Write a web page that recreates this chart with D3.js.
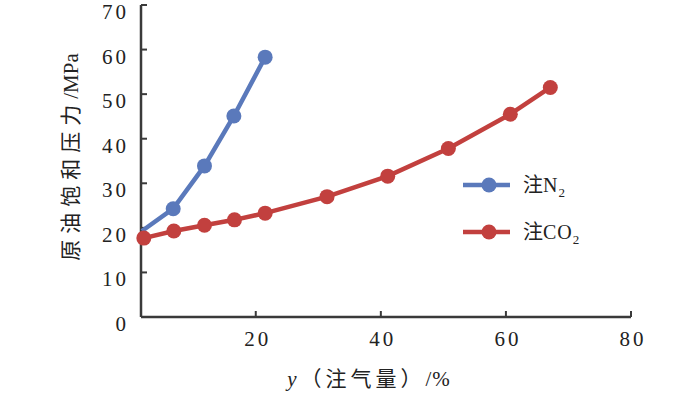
<!DOCTYPE html>
<html><head><meta charset="utf-8">
<script src="https://cdn.jsdelivr.net/npm/d3@7"></script>
<style>
html,body{margin:0;padding:0;background:#fff;}
text{fill:#222;}
</style></head>
<body><svg id="c" width="700" height="399"></svg>
<script>
// data
const seriesNames = ["注N", "注CO"];
const n2X = [1.8, 6.8, 11.8, 16.5, 21.5];
const n2Y = [19.3, 24.3, 33.9, 45.1, 58.3];
const co2X = [2.1, 6.9, 11.8, 16.6, 21.5, 31.4, 41.1, 50.8, 60.7, 67.1];
const co2Y = [17.7, 19.3, 20.6, 21.8, 23.3, 27.0, 31.6, 37.8, 45.5, 51.5];
const xTicks = [20, 40, 60, 80];
const yTicks = [0, 10, 20, 30, 40, 50, 60, 70];
const xTitle = "y（注气量）/%";
const yTitle = "原油饱和压力/MPa";

const SERIF = "'Liberation Serif', 'DejaVu Serif', serif";
const CJK = "'Noto Sans CJK SC', sans-serif";
const colors = ["#5a79bb", "#c2403e"];
const svg = d3.select("#c");
const x = d3.scaleLinear().domain([1.65, 80]).range([141, 631]);
const y = d3.scaleLinear().domain([0, 70]).range([317, 5]);
const axisColor = "#3a3a3a";

// axes
const g = svg.append("g");
g.append("line").attr("x1", x(1.65)).attr("x2", x(80)).attr("y1", y(0)).attr("y2", y(0))
  .attr("stroke", axisColor).attr("stroke-width", 2.5);
g.append("line").attr("x1", x(1.65)).attr("x2", x(1.65)).attr("y1", y(0)).attr("y2", y(70))
  .attr("stroke", axisColor).attr("stroke-width", 2.5);
yTicks.forEach(t => {
  if (t > 0) g.append("line").attr("x1", x(1.65)).attr("x2", x(1.65) + 6).attr("y1", y(t)).attr("y2", y(t))
    .attr("stroke", axisColor).attr("stroke-width", 2);
  g.append("text").attr("x", 129).attr("y", y(t) + 14).attr("text-anchor", "end")
    .attr("font-family", SERIF).attr("font-size", 21).attr("letter-spacing", 3).text(String(t));
});
xTicks.forEach(t => {
  g.append("line").attr("x1", x(t)).attr("x2", x(t)).attr("y1", y(0)).attr("y2", y(0) - 6)
    .attr("stroke", axisColor).attr("stroke-width", 2);
  g.append("text").attr("x", x(t) + 2).attr("y", 346).attr("text-anchor", "middle")
    .attr("font-family", SERIF).attr("font-size", 21).attr("letter-spacing", 3).text(String(t));
});

// titles
const xt = svg.append("text").attr("x", 369).attr("y", 386).attr("text-anchor", "middle")
  .attr("font-size", 21).attr("letter-spacing", 4);
xt.append("tspan").attr("font-family", SERIF).attr("font-style", "italic").text(xTitle[0]);
xt.append("tspan").attr("font-family", CJK).text(xTitle.slice(1, 6));
xt.append("tspan").attr("font-family", SERIF).attr("letter-spacing", 1).text(xTitle.slice(6));
const yt = svg.append("text").attr("transform", "translate(78,157) rotate(-90)").attr("text-anchor", "middle")
  .attr("font-size", 21);
yt.append("tspan").attr("font-family", CJK).attr("letter-spacing", 6).text(yTitle.slice(0, 6));
yt.append("tspan").attr("font-family", SERIF).text(yTitle.slice(6));

// series
const line = d3.line().x(d => x(d[0])).y(d => y(d[1]));
const series = [n2X.map((v, i) => [v, n2Y[i]]), co2X.map((v, i) => [v, co2Y[i]])];
series.forEach((s, k) => {
  svg.append("path").datum(s).attr("d", line).attr("fill", "none")
    .attr("stroke", colors[k]).attr("stroke-width", 4.5);
  svg.selectAll(null).data(s.slice(k === 0 ? 1 : 0)).enter().append("circle")
    .attr("cx", d => x(d[0])).attr("cy", d => y(d[1])).attr("r", 7.5).attr("fill", colors[k]);
});

// legend
const subs = ["2", "2"];
[185, 232].forEach((ly, k) => {
  svg.append("line").attr("x1", 463).attr("x2", 510).attr("y1", ly).attr("y2", ly)
    .attr("stroke", colors[k]).attr("stroke-width", 4.5);
  svg.append("circle").attr("cx", 489).attr("cy", ly).attr("r", 7.5).attr("fill", colors[k]);
  const t = svg.append("text").attr("x", 523).attr("y", ly + 7).attr("font-size", 20);
  t.append("tspan").attr("font-family", CJK).text(seriesNames[k][0]);
  t.append("tspan").attr("font-family", SERIF).attr("letter-spacing", 1).text(seriesNames[k].slice(1));
  t.append("tspan").attr("font-family", SERIF).attr("font-size", 13).attr("dy", 5).text(subs[k]);
});
</script></body></html>
